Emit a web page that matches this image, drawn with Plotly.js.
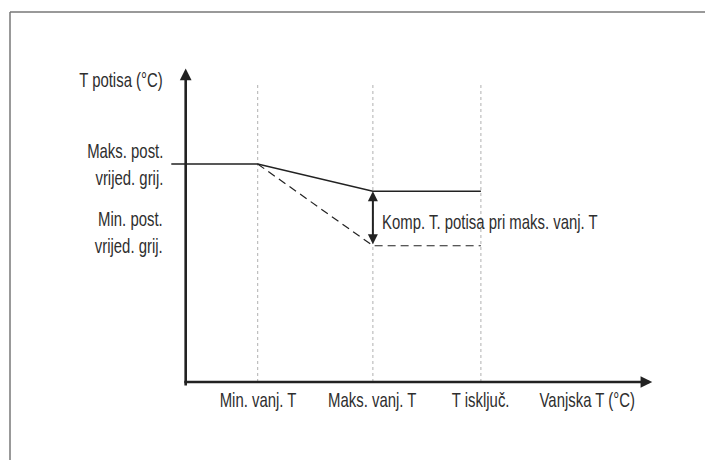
<!DOCTYPE html>
<html>
<head>
<meta charset="utf-8">
<script src="https://cdn.plot.ly/plotly-3.0.1.min.js"></script>
<style>
html,body{margin:0;padding:0;background:#fff;}
#chart{width:705px;height:460px;}
.annotation-text{transform-box:fill-box;}
</style>
</head>
<body>
<div id="chart"></div>
<script>
// ---- data (schematic units) ----
const xTickVals = [1, 2.6, 4.1];
const xTickLabels = ['Min. vanj. T', 'Maks. vanj. T', 'T isključ.'];
const solidCurveX = [-0.2, 1, 2.6, 4.1];
const solidCurveY = [8, 8, 7, 7];
const dashedCurveX = [1, 2.6, 4.1];
const dashedCurveY = [8, 5, 5];
const levelVals = [8, 5];
const levelLabels = ['Maks. post.<br>vrijed. grij.', 'Min. post.<br>vrijed. grij.'];
const compX = 2.6;
const compRange = [7, 5];
const compLabel = 'Komp. T. potisa pri maks. vanj. T';
const guideTop = 11;
const xAxisEnd = 6.48;
const yAxisEnd = 11.5;
const xTitle = 'Vanjska T (°C)';
const xTitlePos = 5.57;
const yTitle = 'T potisa (°C)';
const yTitlePos = 11.1;

const FONT = 'Liberation Sans, Arial, Helvetica, sans-serif';
const TXT = '#2e2e2e';
const FS = 21;

const traces = [];
xTickVals.forEach(v => {
  traces.push({x: [v, v], y: [0, guideTop], mode: 'lines', type: 'scatter',
    line: {color: '#b0b0b0', width: 1, dash: 'dot'}, hoverinfo: 'skip', showlegend: false});
});
traces.push({x: solidCurveX, y: solidCurveY, mode: 'lines', type: 'scatter',
  line: {color: '#222', width: 1.4}, hoverinfo: 'skip', showlegend: false});
traces.push({x: dashedCurveX, y: dashedCurveY, mode: 'lines', type: 'scatter',
  line: {color: '#222', width: 1.2, dash: '8px,5px'}, hoverinfo: 'skip', showlegend: false});

const annotations = [];
annotations.push({x: xAxisEnd, y: 0, ax: -0.04, ay: 0, xref: 'x', yref: 'y', axref: 'x', ayref: 'y',
  text: '', showarrow: true, arrowhead: 2, arrowsize: 0.9, arrowwidth: 2.6, arrowcolor: '#222', standoff: 0});
annotations.push({x: 0, y: yAxisEnd, ax: 0, ay: -0.18, xref: 'x', yref: 'y', axref: 'x', ayref: 'y',
  text: '', showarrow: true, arrowhead: 2, arrowsize: 0.9, arrowwidth: 2.6, arrowcolor: '#222', standoff: 0});
annotations.push({x: compX, y: compRange[0], ax: compX, ay: compRange[1], xref: 'x', yref: 'y', axref: 'x', ayref: 'y',
  text: '', showarrow: true, arrowhead: 2, startarrowhead: 2, arrowside: 'end+start', arrowsize: 1, startarrowsize: 1,
  arrowwidth: 2, arrowcolor: '#222', standoff: 0, startstandoff: 0});
annotations.push({x: compX, y: (compRange[0] + compRange[1]) / 2, xref: 'x', yref: 'y', text: compLabel,
  showarrow: false, xanchor: 'left', xshift: 7, yshift: -3, font: {family: FONT, size: FS, color: TXT}});
xTickVals.forEach((v, i) => {
  annotations.push({x: v, y: 0, xref: 'x', yref: 'y', text: xTickLabels[i], showarrow: false,
    xanchor: 'center', yanchor: 'top', yshift: -4, font: {family: FONT, size: FS, color: TXT}});
});
annotations.push({x: xTitlePos, y: 0, xref: 'x', yref: 'y', text: xTitle, showarrow: false,
  xanchor: 'center', yanchor: 'top', yshift: -4, font: {family: FONT, size: FS, color: TXT}});
annotations.push({x: 0, y: yTitlePos, xref: 'x', yref: 'y', text: yTitle, showarrow: false,
  xanchor: 'right', xshift: -21, font: {family: FONT, size: FS, color: TXT}, align: 'right'});
annotations.push({x: 0, y: levelVals[0], xref: 'x', yref: 'y', text: levelLabels[0], showarrow: false,
  xanchor: 'right', xshift: -21, font: {family: FONT, size: FS, color: TXT}, align: 'right'});
annotations.push({x: 0, y: levelVals[1], xref: 'x', yref: 'y', text: levelLabels[1], showarrow: false,
  xanchor: 'right', xshift: -21, yshift: 14, font: {family: FONT, size: FS, color: TXT}, align: 'right'});

const layout = {
  width: 705, height: 460,
  margin: {l: 0, r: 0, t: 0, b: 0},
  paper_bgcolor: '#fff', plot_bgcolor: '#fff',
  xaxis: {visible: false, range: [-2.579, 7.2125], fixedrange: true},
  yaxis: {visible: false, range: [-2.862, 14.018], fixedrange: true},
  showlegend: false,
  annotations: annotations,
  shapes: [
    {type: 'line', xref: 'paper', yref: 'paper', x0: 10 / 705, x1: 1, y0: 1 - 12 / 460, y1: 1 - 12 / 460,
      line: {color: '#777', width: 1.5}},
    {type: 'line', xref: 'paper', yref: 'paper', x0: 10 / 705, x1: 10 / 705, y0: 0, y1: 1 - 12 / 460,
      line: {color: '#777', width: 1.5}}
  ]
};
Plotly.newPlot('chart', traces, layout, {staticPlot: true, displayModeBar: false}).then(gd => {
  // condensed lettering, like the original's narrow typeface
  const origins = {left: 'left center', right: 'right center', center: 'center center'};
  gd.querySelectorAll('.annotation').forEach(g => {
    const idx = +g.getAttribute('data-index');
    const ann = annotations[idx];
    const t = g.querySelector('.annotation-text');
    if (!t || !ann.text) return;
    t.style.transformOrigin = origins[ann.xanchor || 'center'];
    t.style.transform = 'scaleX(0.71)';
  });
});
</script>
</body>
</html>
